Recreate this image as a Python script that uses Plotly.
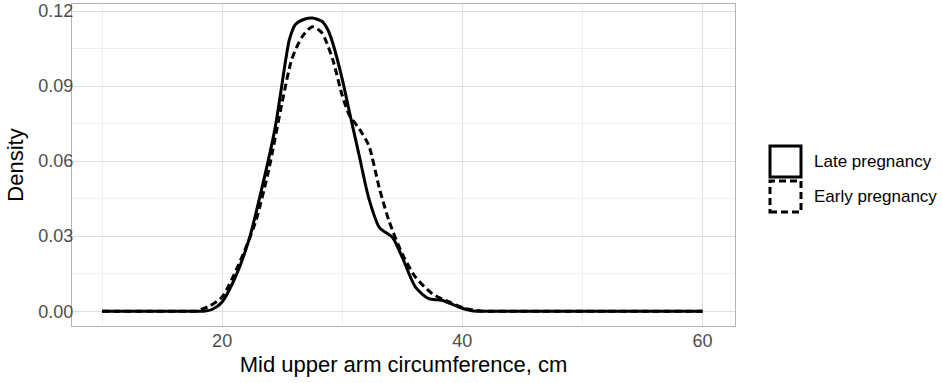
import plotly.graph_objects as go

# Late pregnancy density (solid)
late_x = [10, 14, 17, 18, 18.6, 19.2, 20, 21.1, 22.2, 23.3, 24.4, 25.3, 25.6, 26.1, 26.9, 27.5, 28.3,
          28.8, 29.2, 30, 30.6, 31.4, 32.2, 33.1, 34.2, 35, 36.1, 37.2, 38.3, 39.7, 40.8, 41.6, 43, 47, 52, 56, 60]
late_y = [0, 0, 0, 0, 0.0001, 0.0008, 0.0037, 0.0136, 0.028, 0.049, 0.073, 0.1007, 0.1086, 0.1146,
          0.1168, 0.1172, 0.1159, 0.1125, 0.1073, 0.0928, 0.0796, 0.0625, 0.0453, 0.0334, 0.0294,
          0.0215, 0.0096, 0.005, 0.0044, 0.0017, 0.0002, 0, 0, 0, 0, 0, 0]

# Early pregnancy density (dashed)
early_x = [10, 14, 17, 17.8, 18.3, 19, 20, 21.4, 22.8, 23.9, 25, 25.8, 26.7, 27.5, 28.3, 29.2, 30, 30.6,
           31.4, 32.2, 33.1, 33.9, 35, 36.1, 37.5, 38.9, 40.3, 41.5, 42.3, 44, 48, 52, 56, 60]
early_y = [0, 0, 0, 0, 0.0008, 0.0022, 0.0057, 0.0189, 0.036, 0.057, 0.0836, 0.1007, 0.110, 0.1137,
           0.1113, 0.1007, 0.0862, 0.0783, 0.073, 0.0664, 0.049, 0.036, 0.0229, 0.0136, 0.007,
           0.0037, 0.001, 0.0001, 0, 0, 0, 0, 0, 0]

legend_labels = ["Late pregnancy", "Early pregnancy"]
x_ticks = [20, 40, 60]
y_ticks = [0.00, 0.03, 0.06, 0.09, 0.12]

FONT = "Liberation Sans, Arial"

fig = go.Figure()
fig.add_trace(go.Scatter(x=early_x, y=early_y, mode="lines", name=legend_labels[1],
                         line=dict(color="black", width=3, dash="7px,4px", shape="spline", smoothing=0.7),
                         showlegend=False))
fig.add_trace(go.Scatter(x=late_x, y=late_y, mode="lines", name=legend_labels[0],
                         line=dict(color="black", width=3, shape="spline", smoothing=0.7),
                         showlegend=False))

L, R, T, B = 72, 207, 4, 57
W, H = 942, 383
pw, ph = W - L - R, H - T - B

def px2paper(px, py):
    return (px - L) / pw, (H - B - py) / ph

# manual legend (ggplot-style square keys)
for i, (lab, dash) in enumerate(zip(legend_labels, ["solid", "7px,4px"])):
    y0p, y1p = 146 + i * 35, 177 + i * 35
    x0, y0 = px2paper(770, y1p)
    x1, y1 = px2paper(801, y0p)
    fig.add_shape(type="rect", xref="paper", yref="paper", x0=x0, x1=x1, y0=y0, y1=y1,
                  line=dict(color="black", width=3, dash=dash), fillcolor="white")
    tx, ty = px2paper(812, (y0p + y1p) / 2)
    fig.add_annotation(xref="paper", yref="paper", x=tx, y=ty, text=lab, showarrow=False,
                       xanchor="left", yanchor="middle",
                       font=dict(family=FONT, size=17, color="black"))

axis_common = dict(showline=True, linecolor="#b3b3b3", linewidth=1, mirror=True,
                   gridcolor="#dedede", gridwidth=1, zeroline=False,
                   ticks="", automargin=False,
                   tickfont=dict(family=FONT, size=18, color="#4d4d4d"),
                   title_font=dict(family=FONT, size=22, color="black"))

fig.update_layout(
    width=W, height=H, margin=dict(l=L, r=R, t=T, b=B),
    plot_bgcolor="white", paper_bgcolor="white",
    xaxis=dict(range=[7.5, 62.7], tickvals=x_ticks, ticktext=[str(v) for v in x_ticks],
               title_text="Mid upper arm circumference, cm", title_standoff=7, ticklabelstandoff=-2,
               minor=dict(tickvals=[10, 30, 50], showgrid=True, gridcolor="#eeeeee", gridwidth=1),
               **axis_common),
    yaxis=dict(range=[-0.0059, 0.1228], tickvals=y_ticks, ticktext=[f"{v:.2f}" for v in y_ticks],
               title_text="Density", title_standoff=8, ticklabeloverflow="allow", ticklabelstandoff=-6,
               minor=dict(tickvals=[0.015, 0.045, 0.075, 0.105], showgrid=True, gridcolor="#eeeeee", gridwidth=1),
               **axis_common),
)

fig.write_html("out.html", config={"displayModeBar": False},
               post_script="document.body.style.margin='0px';")
